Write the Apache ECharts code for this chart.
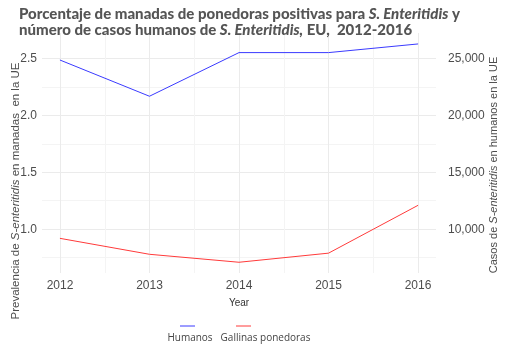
<!DOCTYPE html>
<html>
<head>
<meta charset="utf-8">
<script src="https://cdn.jsdelivr.net/npm/echarts@6/dist/echarts.min.js"></script>
<style>
  html, body { margin: 0; padding: 0; background: #fff; }
  #chart { width: 510px; height: 353px; }
</style>
</head>
<body>
<div id="chart"></div>
<script>
// data
const years = [2012, 2013, 2014, 2015, 2016];
const humanCases = [24850, 21670, 25500, 25500, 26260];
const henFlocksPct = [0.92, 0.78, 0.71, 0.79, 1.21];
const seriesNames = ['Humanos', 'Gallinas ponedoras'];

const textGrey = '#4d4d4d';
const major = '#ebebeb';
const minor = '#f4f4f4';

const chart = echarts.init(document.getElementById('chart'));

const option = {
  animation: false,
  title: {
    left: 14,
    top: 1,
    text: '{b|Porcentaje de manadas de ponedoras positivas para }{bi|S. Enteritidis}{b| y}\n' +
          '{b|número de casos humanos de }{bi|S. Enteritidis,}{b| EU,  2012-2016}',
    textStyle: {
      rich: {
        b: { fontFamily: 'Lato', fontWeight: 900, fontSize: 15, color: '#555', lineHeight: 16 },
        bi: { fontFamily: 'Lato', fontWeight: 900, fontStyle: 'italic', fontSize: 15, color: '#555', lineHeight: 16 }
      }
    }
  },
  grid: [
    // vertical grid lines + x labels (data x-range only)
    { left: 60, right: 92, top: 33, bottom: 80 },
    // horizontal grid lines + data (full panel width)
    { left: 42, right: 74, top: 58.3, bottom: 95.3 }
  ],
  xAxis: [
    {
      gridIndex: 0, type: 'value', min: 2012, max: 2016, interval: 0.5,
      axisLine: { show: false }, axisTick: { show: false },
      axisLabel: {
        color: textGrey, fontFamily: 'Liberation Sans', fontSize: 12, margin: 7,
        formatter: v => (Number.isInteger(v) ? String(v) : '')
      },
      splitLine: { lineStyle: { color: [major, minor], width: 1 } },
      name: 'Year', nameLocation: 'middle', nameGap: 25,
      nameTextStyle: { color: '#333', fontFamily: 'Liberation Sans', fontSize: 10 }
    },
    {
      gridIndex: 1, type: 'value', min: 2011.8, max: 2016.2, show: false
    }
  ],
  yAxis: [
    { gridIndex: 0, type: 'value', min: 0, max: 1, show: false, splitLine: { show: false } },
    {
      gridIndex: 1, type: 'value', position: 'left', min: 0.75, max: 2.5, interval: 0.25,
      axisLine: { show: false }, axisTick: { show: false },
      axisLabel: {
        color: textGrey, fontFamily: 'Liberation Sans', fontSize: 12, margin: 5,
        formatter: v => (Math.abs(v * 2 - Math.round(v * 2)) < 1e-6 ? v.toFixed(1) : '')
      },
      splitLine: { lineStyle: { color: [minor, major], width: 1 } }
    },
    {
      gridIndex: 1, type: 'value', position: 'right', min: 7500, max: 25000, interval: 2500,
      axisLine: { show: false }, axisTick: { show: false },
      axisLabel: {
        color: textGrey, fontFamily: 'Liberation Sans', fontSize: 12, margin: 12,
        formatter: v => (v % 5000 === 0 ? v.toLocaleString('en-US') : '')
      },
      splitLine: { show: false }
    }
  ],
  series: [
    {
      name: seriesNames[0], type: 'line', xAxisIndex: 1, yAxisIndex: 2,
      data: years.map((y, i) => [y, humanCases[i]]),
      showSymbol: false, clip: false,
      lineStyle: { color: '#3a3aff', width: 1 }
    },
    {
      name: seriesNames[1], type: 'line', xAxisIndex: 1, yAxisIndex: 1,
      data: years.map((y, i) => [y, henFlocksPct[i]]),
      showSymbol: false, clip: false,
      lineStyle: { color: '#ff3a3a', width: 1 }
    }
  ],
  graphic: [
    {
      type: 'text', x: 16, y: 191, rotation: Math.PI / 2,
      style: {
        text: '{n|Prevalencia de }{i|S-enteritidis}{n| en manadas  en la UE}',
        align: 'center', verticalAlign: 'middle',
        rich: {
          n: { fontFamily: 'Liberation Sans', fontSize: 11.5, fill: textGrey },
          i: { fontFamily: 'Liberation Sans', fontStyle: 'italic', fontSize: 11.5, fill: textGrey }
        }
      }
    },
    {
      type: 'text', x: 494, y: 165, rotation: Math.PI / 2,
      style: {
        text: '{n|Casos de }{i|S-enteritidis}{n| en humanos en la UE}',
        align: 'center', verticalAlign: 'middle',
        rich: {
          n: { fontFamily: 'Liberation Sans', fontSize: 11, fill: textGrey },
          i: { fontFamily: 'Liberation Sans', fontStyle: 'italic', fontSize: 11, fill: textGrey }
        }
      }
    },
    // legend: key line above label
    { type: 'line', shape: { x1: 180, y1: 326, x2: 195, y2: 326 }, style: { stroke: '#3a3aff', lineWidth: 1 } },
    { type: 'line', shape: { x1: 236, y1: 326, x2: 251, y2: 326 }, style: { stroke: '#ff3a3a', lineWidth: 1 } },
    {
      type: 'text', x: 190, y: 338,
      style: { text: seriesNames[0], align: 'center', verticalAlign: 'middle', fontFamily: 'Open Sans', fontSize: 10, fill: '#444' }
    },
    {
      type: 'text', x: 265.5, y: 338,
      style: { text: seriesNames[1], align: 'center', verticalAlign: 'middle', fontFamily: 'Open Sans', fontSize: 10, fill: '#444' }
    }
  ]
};

chart.setOption(option);
</script>
</body>
</html>
